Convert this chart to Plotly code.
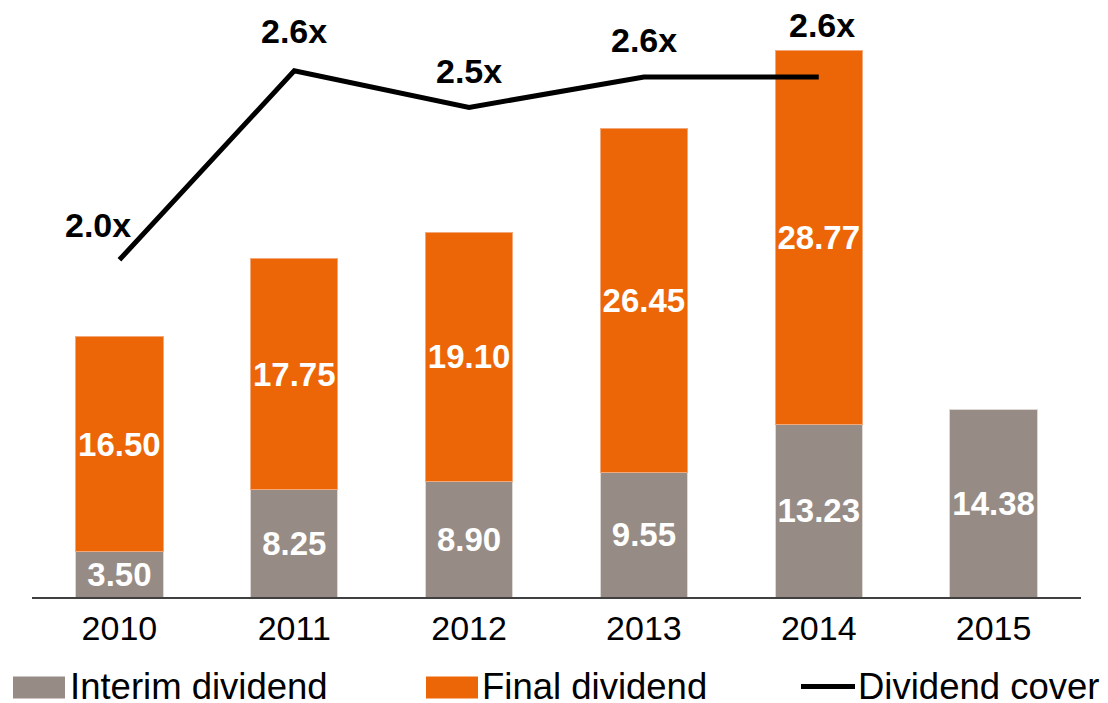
import plotly.graph_objects as go

years = ["2010", "2011", "2012", "2013", "2014", "2015"]
interim = [3.50, 8.25, 8.90, 9.55, 13.23, 14.38]
final = [16.50, 17.75, 19.10, 26.45, 28.77, None]
cover_years = ["2010", "2011", "2012", "2013", "2014"]
cover = [2.0, 2.62, 2.5, 2.6, 2.6]
cover_labels = ["2.0x", "2.6x", "2.5x", "2.6x", "2.6x"]

GREY = "#968c85"
ORANGE = "#ec6608"
FONT = "Liberation Sans, Arial, sans-serif"

OFF = 8  # page body margin
W, H = 1108 - OFF, 703 - OFF
# plot area in screenshot pixels: x 32..1081, y 10..597.5
L, R, T, B = 32 - OFF, 1108 - 1081, 10 - OFF, 703 - 597.5
PW = W - L - R
PH = H - T - B

fig = go.Figure()
fig.add_trace(go.Bar(
    x=years, y=interim, name="Interim dividend",
    marker=dict(color=GREY, line=dict(color="#ddd8d4", width=1)),
    texttemplate="%{y:.2f}", textposition="inside", insidetextanchor="middle",
    textangle=0, constraintext="none",
    textfont=dict(family=FONT, size=33, color="white", weight="bold"),
))
fig.add_trace(go.Bar(
    x=years, y=final, name="Final dividend",
    marker=dict(color=ORANGE, line=dict(color="#f3a87a", width=1)),
    texttemplate="%{y:.2f}", textposition="inside", insidetextanchor="middle",
    textangle=0, constraintext="none",
    textfont=dict(family=FONT, size=33, color="white", weight="bold"),
))
fig.add_trace(go.Scatter(
    x=cover_years, y=cover, name="Dividend cover", yaxis="y2",
    mode="lines", line=dict(color="black", width=5),
))

# line value labels (annotations placed by category index on the category axis)
shifts = [(-21, 35), (0, 40), (0, 36), (0, 37), (3, 52)]
for i, (yv, lab, (dx, dy)) in enumerate(zip(cover, cover_labels, shifts)):
    fig.add_annotation(x=i, y=yv, xref="x", yref="y2", text=lab, showarrow=False,
                       xshift=dx, yshift=dy, yanchor="middle",
                       font=dict(family=FONT, size=34, color="black", weight="bold"))

# custom legend (positions given in screenshot pixels)
def px_x(p):
    return (p - OFF - L) / PW

def px_y(p):
    return 1 - (p - OFF - T) / PH

fig.add_shape(type="rect", xref="paper", yref="paper",
              x0=px_x(13), x1=px_x(65), y0=px_y(699), y1=px_y(677),
              fillcolor=GREY, line=dict(width=0))
fig.add_shape(type="rect", xref="paper", yref="paper",
              x0=px_x(426), x1=px_x(478), y0=px_y(699), y1=px_y(677),
              fillcolor=ORANGE, line=dict(width=0))
fig.add_shape(type="line", xref="paper", yref="paper",
              x0=px_x(801), x1=px_x(855), y0=px_y(687), y1=px_y(687),
              line=dict(color="black", width=5))
for xl, txt in [(69, "Interim dividend"), (481, "Final dividend"), (857, "Dividend cover")]:
    fig.add_annotation(xref="paper", yref="paper", x=px_x(xl), y=px_y(687),
                       text=txt, showarrow=False, xanchor="left", yanchor="middle",
                       borderpad=0,
                       font=dict(family=FONT, size=36.5, color="black"))

fig.update_layout(
    width=W, height=H,
    margin=dict(l=L, r=R, t=T, b=B, autoexpand=False),
    barmode="stack", bargap=0.5,
    plot_bgcolor="white", paper_bgcolor="white",
    showlegend=False,
    xaxis=dict(type="category", range=[-0.5, 5.5], autorange=False, automargin=False,
               showline=True, linecolor="#404040", linewidth=2,
               ticks="", showgrid=False,
               tickfont=dict(family=FONT, size=34, color="black")),
    yaxis=dict(range=[0, PH / 13.02], autorange=False, visible=False, showgrid=False),
    yaxis2=dict(range=[0.8934, 2.8197], autorange=False, overlaying="y",
                visible=False, showgrid=False),
)

fig.write_html("out.html")
